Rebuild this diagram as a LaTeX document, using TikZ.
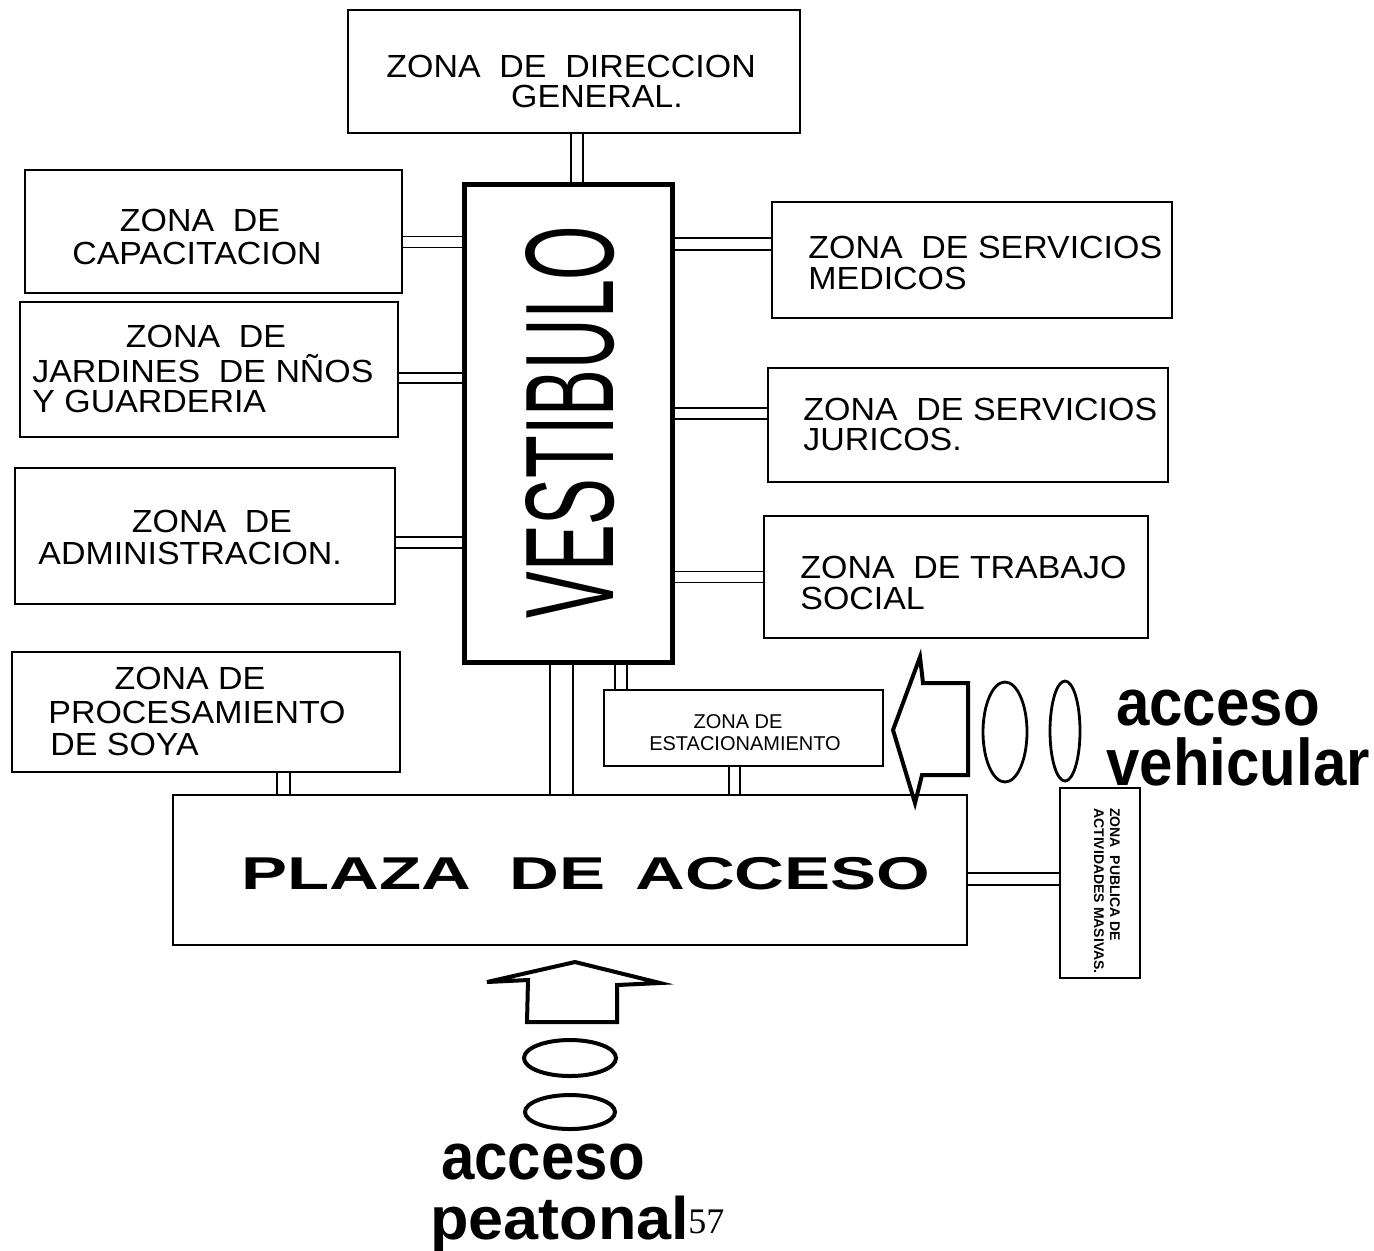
\documentclass[tikz,border=0pt]{standalone}
\usepackage{fontspec}
\setmainfont{Liberation Sans}
\newfontfamily\numfont{Liberation Serif}
\usetikzlibrary{backgrounds}
\newcommand\wz[1]{\scalebox{1.06}[1]{#1}}
\tikzset{
  box/.style={draw, line width=1pt, inner sep=0pt},
  zt/.style={font=\fontsize{16pt}{16pt}\selectfont, inner sep=0pt},
  conn/.style={line width=0.8pt, draw=black, double=white},
  blockarrow/.style={draw, line width=2pt, line join=miter},
  ring/.style={draw, line width=1.4pt},
  bigword/.style={font=\fontsize{30pt}{30pt}\selectfont\bfseries, inner sep=0pt},
}
\begin{document}
\begin{tikzpicture}[x=0.5pt, y=-0.5pt]
\useasboundingbox (0,0) rectangle (1374,1250);

% boxes
\node[box, minimum width=226pt, minimum height=61.5pt] (dir) at (574,71.5) {};
\node[box, line width=2.5pt, minimum width=104pt, minimum height=239pt] (vest) at (568,423) {};
\node[box, minimum width=188.5pt, minimum height=61.5pt] (cap) at (213.5,231.5) {};
\node[box, minimum width=189pt, minimum height=67.5pt] (jar) at (209,369.5) {};
\node[box, minimum width=190pt, minimum height=68pt] (adm) at (205,536) {};
\node[box, minimum width=194pt, minimum height=60pt] (soy) at (206,712) {};
\node[box, minimum width=200pt, minimum height=58pt] (med) at (972,260) {};
\node[box, minimum width=200pt, minimum height=57pt] (jur) at (968,425) {};
\node[box, minimum width=192pt, minimum height=61pt] (tra) at (956,577) {};
\node[box, minimum width=139.5pt, minimum height=38pt] (est) at (743.5,728) {};
\node[box, minimum width=397pt, minimum height=75pt] (pla) at (570,870) {};
\node[box, minimum width=40pt, minimum height=95pt] (pub) at (1100,883) {};

% connectors
\begin{pgfonlayer}{background}
\draw[conn, double distance=5.2pt] (dir.south -| 577,0) -- (vest.north -| 577,0);
\draw[conn, double distance=4.7pt] (cap.east |- 0,242) -- (vest.west |- 0,242);
\draw[conn, double distance=4.2pt] (jar.east |- 0,378) -- (vest.west |- 0,378);
\draw[conn, double distance=4.7pt] (adm.east |- 0,542.5) -- (vest.west |- 0,542.5);
\draw[conn, double distance=5.2pt] (vest.east |- 0,244) -- (med.west |- 0,244);
\draw[conn, double distance=4.7pt] (vest.east |- 0,413.5) -- (jur.west |- 0,413.5);
\draw[conn, double distance=4.7pt] (vest.east |- 0,577) -- (tra.west |- 0,577);
\draw[conn, double distance=10.7pt] (vest.south -| 561.5,0) -- (pla.north -| 561.5,0);
\draw[conn, double distance=5.2pt] (vest.south -| 621,0) -- (est.north -| 621,0);
\draw[conn, double distance=4.7pt] (est.south -| 734.5,0) -- (pla.north -| 734.5,0);
\draw[conn, double distance=5.7pt] (soy.south -| 283.5,0) -- (pla.north -| 283.5,0);
\draw[conn, double distance=5.2pt] (pla.east |- 0,879) -- (pub.west |- 0,879);
\end{pgfonlayer}

% texts
\node[zt, anchor=base west] (dirT1) at (386,77) {\wz{ZONA~ DE~ DIRECCION}};
\node[zt, anchor=base] (dirT2) at (597,107) {\wz{GENERAL.}};

\node[zt, anchor=base] (capT1) at (200,231) {\wz{ZONA~ DE}};
\node[zt, anchor=base] (capT2) at (197,264) {\wz{CAPACITACION}};

\node[zt, anchor=base] (jarT1) at (206,347) {\wz{ZONA~ DE}};
\node[zt, anchor=base west] (jarT2) at (32,382) {\wz{JARDINES~ DE NÑOS}};
\node[zt, anchor=base west] (jarT3) at (32,412) {\wz{Y GUARDERIA}};

\node[zt, anchor=base] (admT1) at (212,532) {\wz{ZONA~ DE}};
\node[zt, anchor=base west] (admT2) at (38,564) {\wz{ADMINISTRACION.}};

\node[zt, anchor=base] (soyT1) at (190,689) {\wz{ZONA DE}};
\node[zt, anchor=base] (soyT2) at (197,723) {\wz{PROCESAMIENTO}};
\node[zt, anchor=base west] (soyT3) at (50,755) {\wz{DE SOYA}};

\node[zt, anchor=base west] (medT1) at (808,258) {\wz{ZONA~ DE SERVICIOS}};
\node[zt, anchor=base west] (medT2) at (808,289) {\wz{MEDICOS}};

\node[zt, anchor=base west] (jurT1) at (803,420) {\wz{ZONA~ DE SERVICIOS}};
\node[zt, anchor=base west] (jurT2) at (803,450) {\wz{JURICOS.}};

\node[zt, anchor=base west] (traT1) at (800,578) {\wz{ZONA~ DE TRABAJO}};
\node[zt, anchor=base west] (traT2) at (800,609) {\wz{SOCIAL}};

\node[anchor=base, inner sep=0pt, font=\fontsize{10pt}{10pt}\selectfont] (estT1) at (738,728) {ZONA DE};
\node[anchor=base, inner sep=0pt, font=\fontsize{10pt}{10pt}\selectfont] (estT2) at (745,750) {ESTACIONAMIENTO};

\node[rotate=90, inner sep=0pt] (vestT) at (570,422)
  {\scalebox{1}[1.8]{\fontsize{35pt}{35pt}\selectfont VESTIBULO}};

\node[anchor=base, inner sep=0pt] (plaT) at (586,889)
  {\scalebox{1.5}[1]{\fontsize{23pt}{23pt}\selectfont\bfseries PLAZA~ DE\hspace{0.15em} ACCESO}};

\node[rotate=-90, align=left, inner sep=0pt, font=\fontsize{7pt}{8pt}\selectfont\bfseries] (pubT) at (1107,891)
  {ZONA~ PUBLICA DE\\ACTIVIDADES MASIVAS.};

% vehicular access
\draw[blockarrow] (893,730) -- (920,657) -- (923,683) -- (968,683) -- (968,775) -- (922,775) -- (915,803) -- cycle;
\draw[ring] (1005,732) ellipse [x radius=11pt, y radius=25pt];
\draw[ring] (1065,731) ellipse [x radius=7.5pt, y radius=25pt];
\node[bigword, anchor=base] (vehT1) at (1218,725) {\scalebox{1}[1.1]{acceso}};
\node[bigword, anchor=base] (vehT2) at (1238,785) {\scalebox{1}[1.1]{vehicular}};

% pedestrian access
\draw[blockarrow] (575,962) -- (660,983) -- (617,985) -- (617,1022) -- (527,1022) -- (528,980) -- (487,982) -- cycle;
\draw[ring, line width=2pt] (570,1058) ellipse [x radius=23pt, y radius=9pt];
\draw[ring, line width=2pt] (570,1112) ellipse [x radius=22.5pt, y radius=8.5pt];
\node[bigword, anchor=base] (peaT1) at (543,1179) {\scalebox{1}[1.1]{acceso}};
\node[bigword, anchor=base west] (peaT2) at (430,1239) {\scalebox{1.05}[1]{peatonal}};
\node[anchor=base west, inner sep=0pt, font=\numfont\fontsize{18pt}{18pt}\selectfont] (pageno) at (688,1233) {57};
\end{tikzpicture}
\end{document}
